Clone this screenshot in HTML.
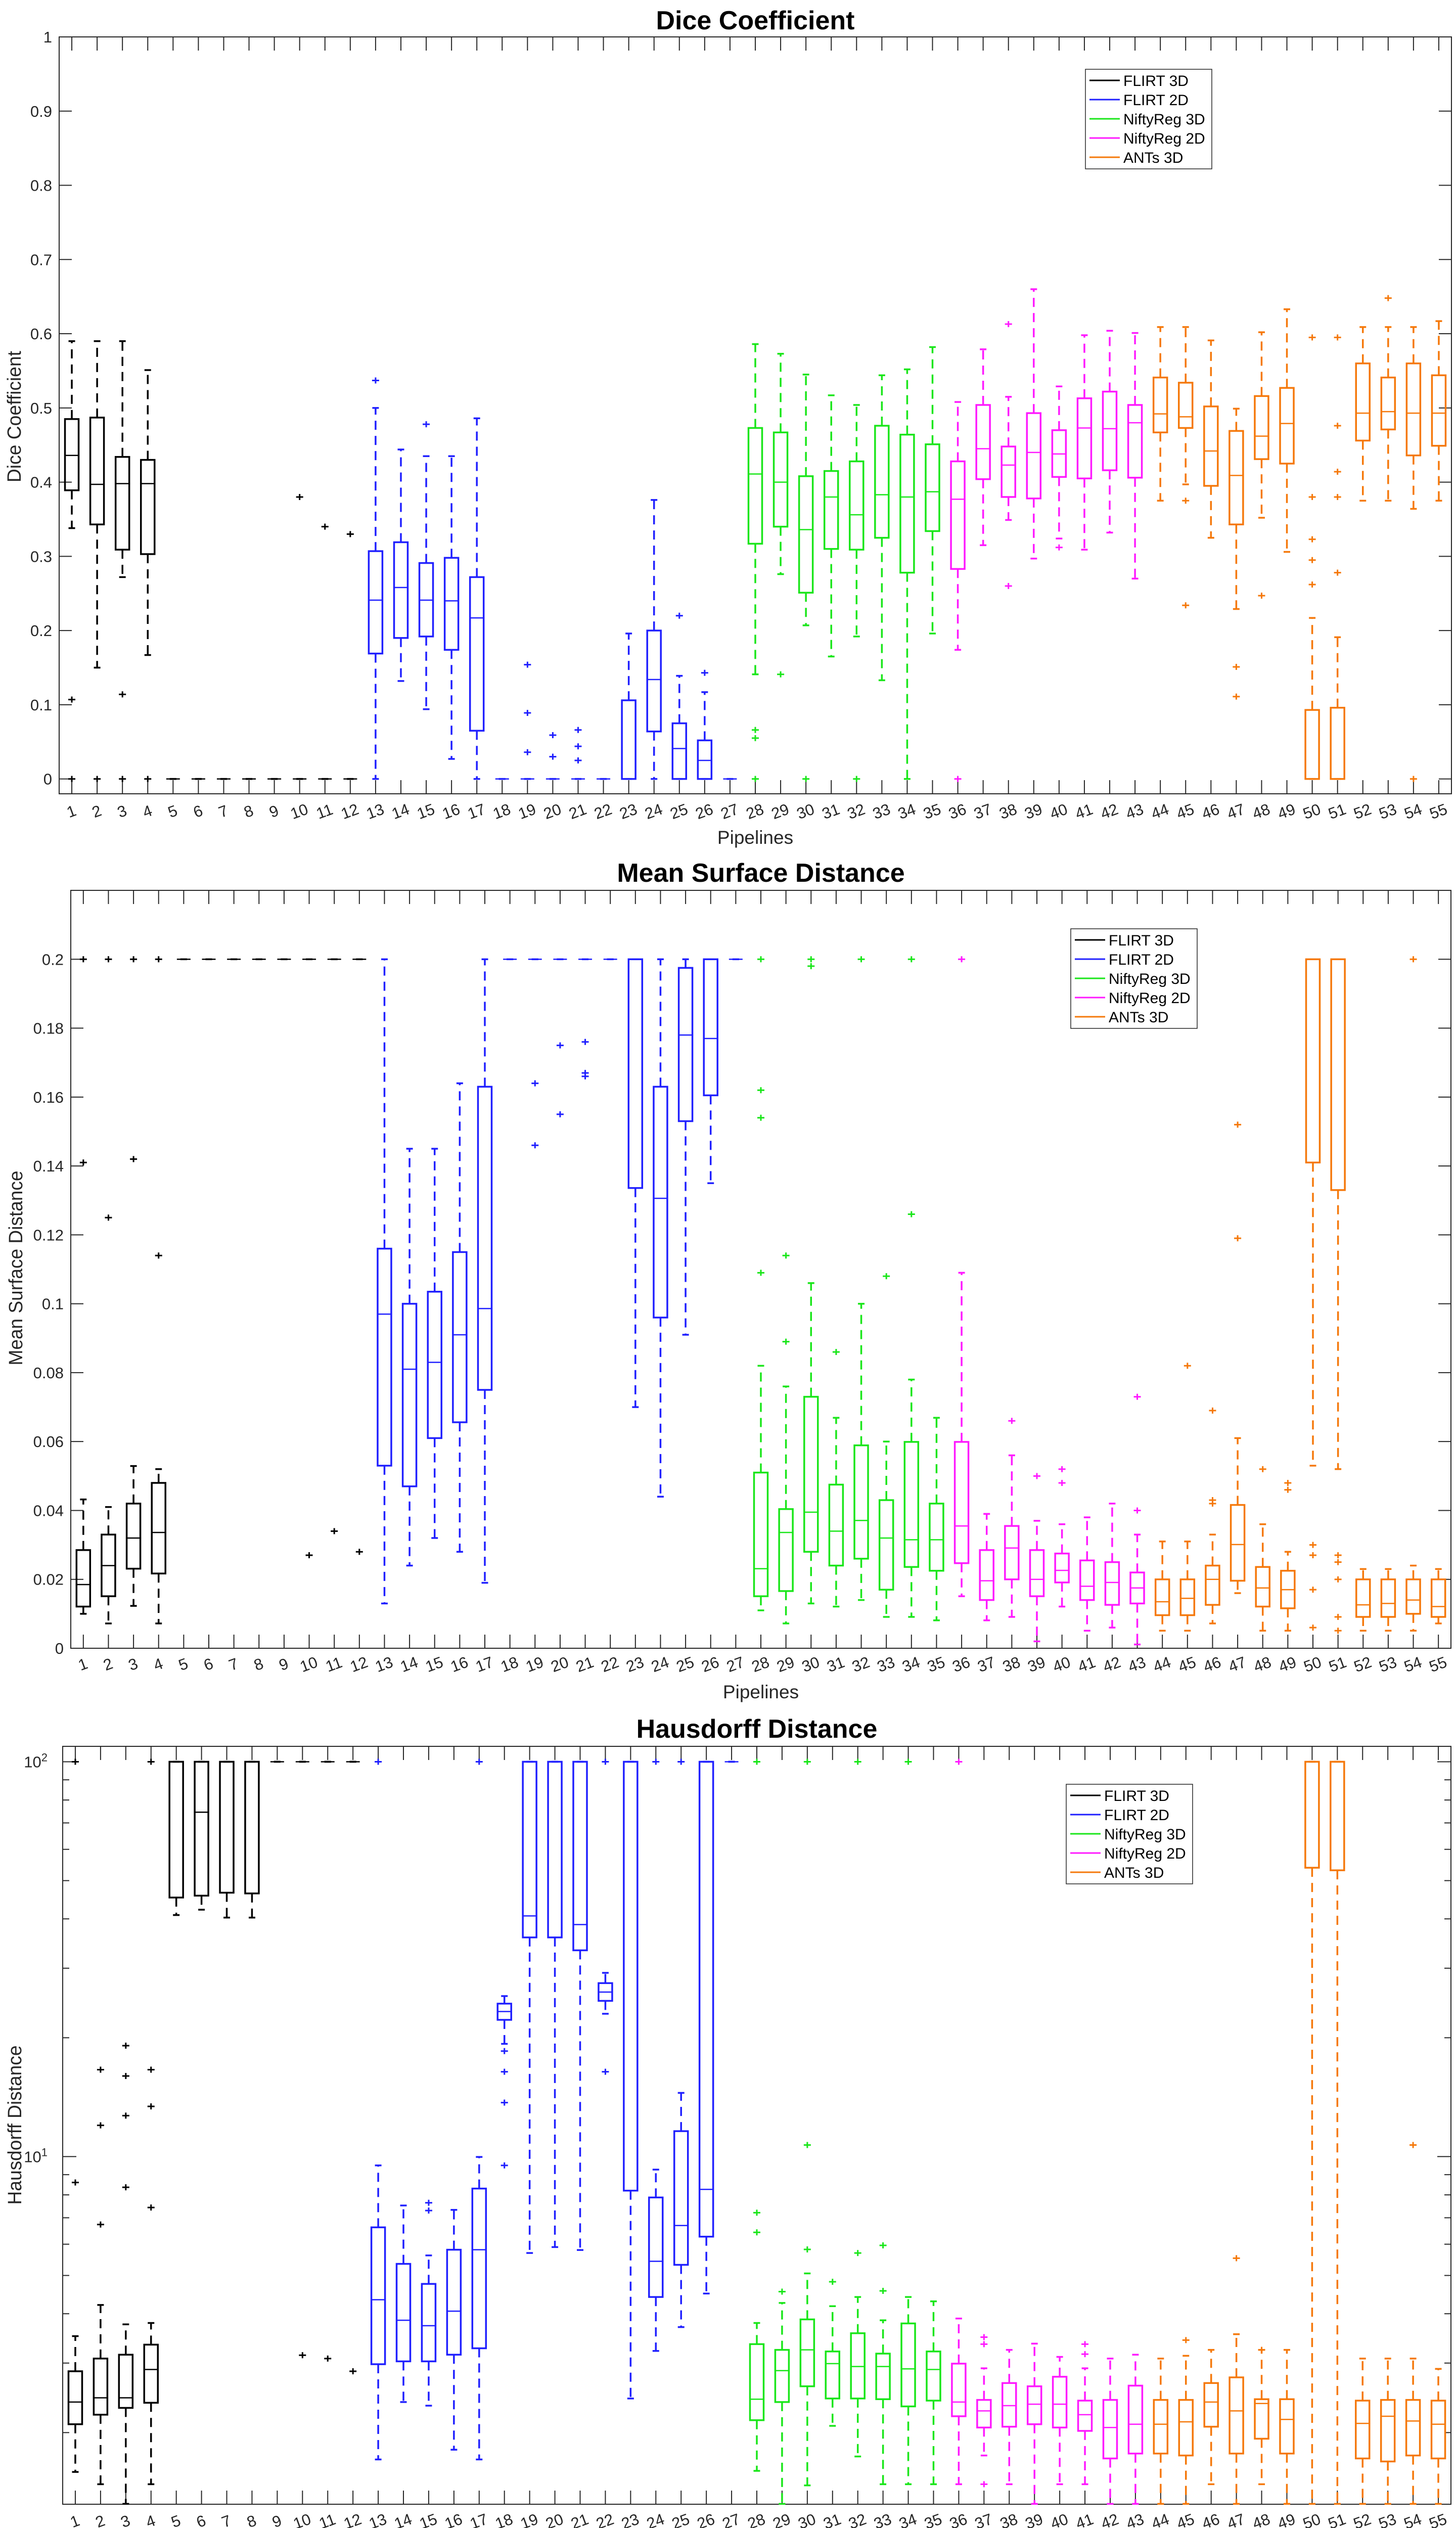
<!DOCTYPE html>
<html><head><meta charset="utf-8"><style>
html,body{margin:0;padding:0;background:#fff;width:2880px;height:5100px;overflow:hidden;}
svg{display:block;font-family:"Liberation Sans",Arial,sans-serif;}
</style></head><body>
<svg id="chart" width="2880" height="5100" viewBox="0 0 2880 5100" xmlns="http://www.w3.org/2000/svg">
<rect x="0" y="0" width="2880" height="5100" fill="#fff"/>
</svg>
<script>
// ---------- Panel 1: Dice Coefficient ----------
const diceLo  = [.338,.15,.272,.167,0,0,0,0,0,0,0,0,0,.132,.094,.027,0,0,0,0,0,0,0,0,0,0,0,.141,.276,.207,.165,.192,.133,0,.196,.174,.315,.349,.297,.324,.309,.332,.27,.375,.397,.325,.229,.352,.306,0,0,.375,.375,.364,.375];
const diceQ1  = [.389,.343,.309,.303,0,0,0,0,0,0,0,0,.169,.19,.192,.174,.065,0,0,0,0,0,0,.064,0,0,0,.317,.34,.251,.31,.309,.325,.278,.334,.283,.404,.38,.378,.407,.405,.416,.406,.467,.473,.395,.343,.431,.425,0,0,.456,.471,.436,.449];
const diceMed = [.436,.397,.398,.398,0,0,0,0,0,0,0,0,.241,.258,.241,.24,.217,0,0,0,0,0,0,.134,.041,.025,0,.411,.4,.336,.38,.356,.383,.38,.387,.377,.445,.423,.44,.438,.473,.472,.48,.492,.488,.442,.409,.462,.479,0,0,.493,.495,.493,.493];
const diceQ3  = [.485,.487,.434,.43,0,0,0,0,0,0,0,0,.307,.319,.291,.298,.272,0,0,0,0,0,.106,.2,.075,.052,0,.473,.467,.408,.415,.428,.476,.464,.451,.428,.504,.448,.493,.47,.513,.522,.504,.541,.534,.502,.469,.516,.527,.093,.096,.56,.541,.56,.544];
const diceHi  = [.59,.59,.59,.551,0,0,0,0,0,0,0,0,.5,.444,.435,.435,.486,0,0,0,0,0,.196,.376,.139,.117,0,.586,.573,.545,.517,.504,.544,.552,.582,.508,.579,.515,.66,.529,.598,.604,.601,.609,.609,.591,.499,.602,.633,.217,.191,.609,.609,.609,.617];
const diceOut = [[.107,0],[0],[.114,0],[0],[],[],[],[],[],[.38],[.34],[.33],[.537],[],[.478],[],[],[],[.154,.089,.036],[.059,.03],[.066,.044,.025],[],[],[],[.22],[.143],[],[.066,.055,0],[.141],[0],[],[0],[],[],[],[0],[],[.613,.26],[],[.312],[],[],[],[],[.375,.234],[],[.151,.111],[.247],[],[.595,.38,.323,.295,.262],[.595,.476,.414,.38,.278],[],[.648],[0],[]];
const diceTicks = [0,.1,.2,.3,.4,.5,.6,.7,.8,.9,1];
const diceTickLabels = ["0","0.1","0.2","0.3","0.4","0.5","0.6","0.7","0.8","0.9","1"];

// ---------- Panel 2: Mean Surface Distance ----------
const msdLo  = [.01,.0072,.0123,.0072,.2,.2,.2,.2,.2,.2,.2,.2,.013,.024,.032,.028,.019,.2,.2,.2,.2,.2,.07,.044,.091,.135,.2,.011,.0072,.013,.0121,.014,.0091,.0091,.0081,.0151,.0081,.0091,.002,.0121,.0051,.006,.0011,.0051,.0051,.0072,.016,.0051,.0051,.053,.052,.0051,.0051,.0051,.0072];
const msdQ1  = [.0121,.0151,.0231,.0217,.2,.2,.2,.2,.2,.2,.2,.2,.053,.047,.061,.0656,.075,.2,.2,.2,.2,.2,.1336,.096,.153,.1605,.2,.0151,.0166,.028,.024,.026,.017,.0236,.0225,.0247,.014,.02,.0151,.0191,.014,.0126,.013,.0096,.0096,.0126,.0196,.0121,.0116,.141,.133,.0091,.0091,.01,.0091];
const msdMed = [.0185,.024,.032,.0336,.2,.2,.2,.2,.2,.2,.2,.2,.097,.081,.083,.091,.0986,.2,.2,.2,.2,.2,.2,.1306,.178,.177,.2,.0231,.0336,.0395,.034,.0371,.032,.0315,.0315,.0355,.0196,.0291,.02,.0226,.018,.0191,.0175,.0135,.0145,.02,.0301,.0175,.017,.2,.2,.0126,.013,.014,.0121];
const msdQ3  = [.0285,.033,.042,.048,.2,.2,.2,.2,.2,.2,.2,.2,.116,.1,.1035,.115,.163,.2,.2,.2,.2,.2,.2,.163,.1975,.2,.2,.051,.0404,.073,.0475,.0589,.043,.0599,.042,.0599,.0285,.0355,.0285,.0275,.0255,.025,.022,.02,.02,.024,.0416,.0236,.0225,.2,.2,.02,.02,.02,.02];
const msdHi  = [.0432,.041,.0529,.052,.2,.2,.2,.2,.2,.2,.2,.2,.2,.145,.145,.164,.2,.2,.2,.2,.2,.2,.2,.2,.2,.2,.2,.082,.076,.106,.0669,.1,.06,.078,.0669,.109,.039,.056,.037,.036,.038,.042,.033,.031,.031,.033,.061,.036,.028,.2,.2,.023,.023,.024,.023];
const msdOut = [[.2,.141],[.2,.125],[.2,.142],[.2,.114],[],[],[],[],[],[.027],[.034],[.028],[],[],[],[],[],[],[.164,.146],[.175,.155],[.176,.167,.166],[],[],[],[],[],[],[.2,.162,.154,.109],[.114,.089],[.2,.198],[.086],[.2],[.108],[.2,.126],[],[.2],[],[.066],[.05],[.052,.048],[],[],[.073,.04],[],[.082],[.069,.043,.042],[.152,.119],[.052],[.048,.046],[.03,.027,.017,.006],[.027,.025,.02,.0091,.0051],[],[],[.2],[]];
const msdTicks = [0,.02,.04,.06,.08,.1,.12,.14,.16,.18,.2];
const msdTickLabels = ["0","0.02","0.04","0.06","0.08","0.1","0.12","0.14","0.16","0.18","0.2"];

// ---------- Panel 3: Hausdorff Distance ----------
const hdLo  = [1.59,1.48,1.32,1.48,40.9,42.2,40.3,40.3,100,100,100,100,1.71,2.39,2.34,1.81,1.71,19.3,5.7,5.9,5.8,23.0,2.44,3.22,3.7,4.5,100,1.6,1.32,1.47,2.08,1.74,1.48,1.48,1.48,1.48,1.75,1.48,1.32,1.48,1.48,1.32,1.32,1.32,1.32,1.48,1.32,1.48,1.32,1.32,1.32,1.32,1.32,1.32,1.32];
const hdQ1  = [2.10,2.22,2.31,2.38,45.3,45.8,46.6,46.4,100,100,100,100,2.98,3.03,3.03,3.15,3.27,22.2,35.9,35.9,33.3,24.8,8.2,4.41,5.32,6.27,100,2.15,2.39,2.62,2.44,2.44,2.43,2.33,2.41,2.2,2.06,2.07,2.10,2.06,2.02,1.72,1.77,1.77,1.75,2.07,1.77,1.93,1.77,53.9,53.1,1.72,1.69,1.75,1.72];
const hdMed = [2.39,2.45,2.45,2.89,100,74.5,100,100,100,100,100,100,4.34,3.85,3.73,4.06,5.81,23.3,40.7,35.9,38.7,26.1,100,5.43,6.69,8.26,100,2.43,2.87,3.24,2.99,2.94,2.94,2.9,2.89,2.39,2.27,2.34,2.36,2.36,2.22,2.06,2.10,2.10,2.13,2.39,2.27,2.37,2.16,100,100,2.11,2.2,2.14,2.10];
const hdQ3  = [2.86,3.08,3.15,3.34,100,100,100,100,100,100,100,100,6.62,5.35,4.76,5.81,8.3,24.4,100,100,100,27.5,100,7.88,11.6,100,100,3.35,3.24,3.87,3.21,3.57,3.17,3.78,3.21,2.99,2.42,2.67,2.62,2.77,2.41,2.42,2.63,2.42,2.42,2.67,2.76,2.43,2.43,100,100,2.41,2.42,2.42,2.41];
const hdHi  = [3.51,4.21,3.76,3.79,100,100,100,100,100,100,100,100,9.5,7.52,5.62,7.33,9.98,25.5,100,100,100,29.2,100,9.27,14.5,100,100,3.79,4.26,5.06,4.18,4.41,3.85,4.41,4.30,3.89,2.91,3.24,3.36,3.11,2.91,3.08,3.15,3.08,3.13,3.24,3.55,3.24,3.24,100,100,3.08,3.08,3.08,2.90];
const hdOut = [[100,8.6],[16.6,12.0,6.73],[19.1,16.0,12.7,8.36],[100,16.6,13.4,7.43],[],[],[],[],[],[3.14],[3.08],[2.86],[100],[],[7.64,7.3],[],[100],[18.5,16.4,13.7,9.5],[],[],[],[16.4,100],[],[100],[100],[],[],[100,7.21,6.43],[4.55],[100,10.7,5.82],[4.82],[100,5.7],[5.96,4.57],[100],[],[100],[3.49,3.35,1.48],[],[],[],[3.35,3.16],[],[],[],[3.43],[],[5.53],[3.24],[],[],[],[],[],[10.7],[]];
const hdTicks = [10,100];
const hdTickExp = ["1","2"];

const groupNames = ["FLIRT 3D","FLIRT 2D","NiftyReg 3D","NiftyReg 2D","ANTs 3D"];
const groupColors = ["#000000","#1f1fff","#19e619","#ff19ff","#f5780a"];
const groupEnd = [12,27,35,43,55];

const NS = "http://www.w3.org/2000/svg";
const svg = document.getElementById('chart');
function mk(tag, attrs, parent){ const e=document.createElementNS(NS,tag); for(const k in attrs) e.setAttribute(k,attrs[k]); (parent||svg).appendChild(e); return e; }
function colorOf(i){ for(let g=0;g<groupEnd.length;g++){ if(i+1<=groupEnd[g]) return groupColors[g]; } return "#000"; }

function drawPanel(p){
  const g = mk('g',{});
  
  
  const L=p.left,R=p.right,T=p.top,B=p.bottom;
  const n=55, step=(R-L)/n;
  const xs = i => L + step*(i+0.5);
  let ys;
  if(p.log){ const a=Math.log10(p.ymin), b=Math.log10(p.ymax); ys = v => B - (Math.log10(v)-a)/(b-a)*(B-T); }
  else { ys = v => B - (v-p.ymin)/(p.ymax-p.ymin)*(B-T); }
  const cid = 'clip-'+p.name;
  const cp = mk('clipPath',{id:cid},g); mk('rect',{x:L,y:T-8,width:R-L,height:B-T+12},cp);
  const ax = mk('rect',{x:L,y:T,width:R-L,height:B-T,fill:'none',stroke:'#262626','stroke-width':2},g);
  
  
  for(let i=0;i<n;i++){
    const x=xs(i);
    mk('line',{x1:x,y1:B,x2:x,y2:B-27,stroke:'#262626','stroke-width':2},g);
    mk('line',{x1:x,y1:T,x2:x,y2:T+27,stroke:'#262626','stroke-width':2},g);
    const t = mk('text',{x:x,y:p.xlabY,'font-size':31,fill:'#262626','text-anchor':'middle','dominant-baseline':'middle',transform:`rotate(-20 ${x} ${p.xlabY})`},g);
    t.textContent = String(i+1);
    
    
  }
  if(p.log){
    const a=Math.floor(Math.log10(p.ymin)), b=Math.ceil(Math.log10(p.ymax));
    for(let d=a; d<=b; d++) for(let m=2;m<=9;m++){
      const v=m*Math.pow(10,d); if(v<p.ymin||v>p.ymax) continue;
      const y=ys(v);
      mk('line',{x1:L,y1:y,x2:L+13,y2:y,stroke:'#262626','stroke-width':2},g);
      mk('line',{x1:R,y1:y,x2:R-13,y2:y,stroke:'#262626','stroke-width':2},g);
    }
    hdTicks.forEach((v,k)=>{
      const y=ys(v);
      mk('line',{x1:L,y1:y,x2:L+27,y2:y,stroke:'#262626','stroke-width':2},g);
      mk('line',{x1:R,y1:y,x2:R-27,y2:y,stroke:'#262626','stroke-width':2},g);
      const t=mk('text',{x:L-30,y:y+11,'font-size':31,fill:'#262626','text-anchor':'end'},g);
      
      
      const s1=mk('tspan',{},t); s1.textContent='10';
      const s2=mk('tspan',{dy:-12,'font-size':22},t); s2.textContent=hdTickExp[k];
    });
  } else {
    p.ticks.forEach((v,k)=>{
      const y=ys(v);
      mk('line',{x1:L,y1:y,x2:L+25,y2:y,stroke:'#262626','stroke-width':2},g);
      mk('line',{x1:R,y1:y,x2:R-25,y2:y,stroke:'#262626','stroke-width':2},g);
      const t=mk('text',{x:L-14,y:y+11,'font-size':31,fill:'#262626','text-anchor':'end'},g);
      t.textContent=p.tickLabels[k];
      
      
    });
  }
  const bg = mk('g',{'clip-path':`url(#${cid})`},g);
  const bw=27, cw=13;
  for(let i=0;i<n;i++){
    const c=colorOf(i), x=xs(i);
    const box = mk('g',{},bg);
    
    
    const yLo=ys(p.lo[i]), yQ1=ys(p.q1[i]), yMed=ys(p.med[i]), yQ3=ys(p.q3[i]), yHi=ys(p.hi[i]);
    mk('line',{x1:x,y1:yQ3,x2:x,y2:yHi,stroke:c,'stroke-width':3.5,'stroke-dasharray':'18 12'},box);
    mk('line',{x1:x,y1:yQ1,x2:x,y2:yLo,stroke:c,'stroke-width':3.5,'stroke-dasharray':'18 12'},box);
    mk('line',{x1:x-cw/2,y1:yHi,x2:x+cw/2,y2:yHi,stroke:c,'stroke-width':3.5},box);
    mk('line',{x1:x-cw/2,y1:yLo,x2:x+cw/2,y2:yLo,stroke:c,'stroke-width':3.5},box);
    mk('rect',{x:x-bw/2,y:Math.min(yQ3,yQ1),width:bw,height:Math.abs(yQ1-yQ3),fill:'none',stroke:c,'stroke-width':3.5},box);
    mk('line',{x1:x-bw/2,y1:yMed,x2:x+bw/2,y2:yMed,stroke:c,'stroke-width':2.5},box);
    p.out[i].forEach(v=>{
      const y=ys(v);
      const o=mk('path',{d:`M${x-7} ${y}H${x+7}M${x} ${y-6}V${y+6}`,stroke:c,'stroke-width':3,fill:'none'},box);
      
      
    });
  }
  const tt=mk('text',{x:(L+R)/2,y:p.titleY,'font-size':52,'font-weight':'bold','text-anchor':'middle',fill:'#000'},g);
  tt.textContent=p.title;
  
  
  const xl=mk('text',{x:(L+R)/2,y:p.xtitleY,'font-size':37,'text-anchor':'middle','dominant-baseline':'middle',fill:'#262626'},g);
  xl.textContent='Pipelines';
  
  
  const yl=mk('text',{x:0,y:0,'font-size':38,'text-anchor':'middle','dominant-baseline':'middle',fill:'#262626',textLength:p.ylabLen,lengthAdjust:'spacingAndGlyphs',transform:`translate(${p.ylabX} ${p.ylabY}) rotate(-90)`},g);
  yl.textContent=p.ylab;
  
  
  const lg=mk('g',{},g);
  
  
  mk('rect',{x:p.legX,y:p.legY,width:250,height:197,fill:'#fff',stroke:'#262626','stroke-width':1.5},lg);
  groupNames.forEach((nm,k)=>{
    const yy=p.legY+22+k*38;
    const le=mk('g',{},lg);
    
    
    mk('line',{x1:p.legX+8,y1:yy,x2:p.legX+68,y2:yy,stroke:groupColors[k],'stroke-width':3},le);
    const t=mk('text',{x:p.legX+75,y:yy+11,'font-size':30,fill:'#000'},le);
    t.textContent=nm;
  });
}

drawPanel({name:'dice',left:117,right:2871,top:73,bottom:1570,ymin:-0.02,ymax:1,log:false,ticks:diceTicks,tickLabels:diceTickLabels,
  lo:diceLo,q1:diceQ1,med:diceMed,q3:diceQ3,hi:diceHi,out:diceOut,title:'Dice Coefficient',titleY:58,xlabY:1607,xtitleY:1659,
  ylab:'Dice Coefficient',ylabX:31,ylabY:824,ylabLen:260,legX:2147,legY:137});
drawPanel({name:'msd',left:140,right:2870,top:1761,bottom:3260,ymin:0,ymax:0.22,log:false,ticks:msdTicks,tickLabels:msdTickLabels,
  lo:msdLo,q1:msdQ1,med:msdMed,q3:msdQ3,hi:msdHi,out:msdOut,title:'Mean Surface Distance',titleY:1744,xlabY:3294,xtitleY:3349,
  ylab:'Mean Surface Distance',ylabX:34,ylabY:2508,ylabLen:385,legX:2118,legY:1837});
drawPanel({name:'hd',left:124,right:2870,top:3454,bottom:4953,ymin:1.317,ymax:109.4,log:true,
  lo:hdLo,q1:hdQ1,med:hdMed,q3:hdQ3,hi:hdHi,out:hdOut,title:'Hausdorff Distance',titleY:3437,xlabY:4989,xtitleY:5043,
  ylab:'Hausdorff Distance',ylabX:32,ylabY:4203,ylabLen:315,legX:2109,legY:3529});
</script>
</body></html>
